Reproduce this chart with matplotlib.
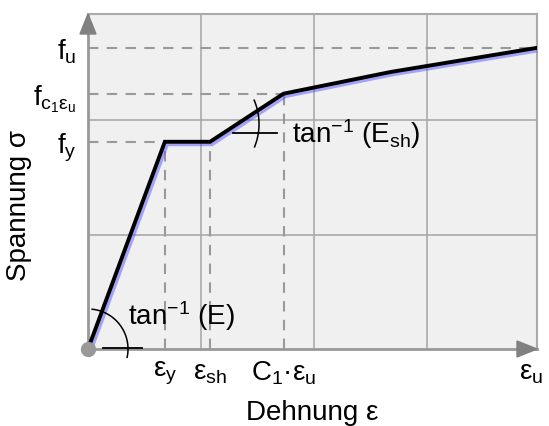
import matplotlib
matplotlib.use("Agg")
import matplotlib.pyplot as plt
import matplotlib.patheffects as pe
from matplotlib.patches import Polygon
import numpy as np

plt.rcParams['font.family'] = ['Liberation Sans', 'DejaVu Sans']
plt.rcParams['mathtext.fontset'] = 'custom'
plt.rcParams['mathtext.rm'] = 'Liberation Sans'
plt.rcParams['mathtext.it'] = 'Liberation Sans'
plt.rcParams['mathtext.bf'] = 'Liberation Sans:bold'

# schematic stress-strain curve (grid units)
strain = [0, 0.68, 1.08, 1.73, 2.68, 3.97]
stress = [0, 1.81, 1.81, 2.23, 2.42, 2.63]

x_ticks = [0.68, 1.08, 1.73, 3.92]
x_labels = [r'ε$_\mathrm{y}$', r'ε$_\mathrm{sh}$', r'C$_1$·ε$_\mathrm{u}$', r'ε$_\mathrm{u}$']
y_ticks = [1.81, 2.23, 2.63]
y_labels = [r'f$_\mathrm{y}$', r'f$_{\mathrm{c}_1\mathrm{ε}_\mathrm{u}}$', r'f$_\mathrm{u}$']

xmax, ymax = 3.973, 2.926
sx, sy = 113.0, 114.5   # px per unit

fig = plt.figure(figsize=(5.49, 4.27), dpi=100)
ax = fig.add_axes([88/549, 77/427, 449/549, 335/427])
ax.set_xlim(0, xmax)
ax.set_ylim(0, ymax)
ax.set_facecolor('#f0f0f0')

gc = '#aaaaaa'
for g in [1, 2, 3]:
    ax.axvline(g, color=gc, lw=1.2, zorder=1)
for g in [1, 2]:
    ax.axhline(g, color=gc, lw=1.2, zorder=1)

for s in ['top', 'right']:
    ax.spines[s].set_color(gc)
    ax.spines[s].set_linewidth(1.5)
for s in ['left', 'bottom']:
    ax.spines[s].set_color('#999999')
    ax.spines[s].set_linewidth(2)

# dashed guide lines
dk = dict(color='#999999', lw=1.5, ls=(0, (5, 4)), zorder=2)
ax.plot([0, strain[1]], [stress[1]] * 2, **dk)
ax.plot([strain[1]] * 2, [0, stress[1]], **dk)
ax.plot([strain[2]] * 2, [0, stress[2]], **dk)
ax.plot([0, strain[3]], [stress[3]] * 2, **dk)
ax.plot([strain[3]] * 2, [0, stress[3]], **dk)
ax.plot([0, strain[5]], [stress[5]] * 2, **dk)

# curve with blue shadow
ax.plot(strain, stress, color='black', lw=2.8, zorder=5, solid_joinstyle='miter',
        path_effects=[pe.SimpleLineShadow(offset=(1.2, -1.2), shadow_color='#5555ff', alpha=0.5, linewidth=4),
                      pe.Normal()])

# angle markers
def arc(cx, cy, r, a0, a1):
    t = np.radians(np.linspace(a0, a1, 60))
    ax.plot(cx + r * np.cos(t) / sx, cy + r * np.sin(t) / sy, color='black', lw=1.1, zorder=6, clip_on=False)

arc(0, 0, 40, -12, 84)
ax.plot([15 / sx, 54 / sx], [0.005, 0.005], color='black', lw=1.3, zorder=6, clip_on=False)
arc(110 / sx, 225 / sy, 61, -22, 23)
ax.plot([145 / sx, 189 / sx], [216 / sy, 216 / sy], color='black', lw=1.3, zorder=6)

fs = 20
ax.text(40 / sx, 25 / sy, r'tan$^{\mathregular{-1}}$ (E)', fontsize=fs, va='baseline', ha='left', zorder=7)
ax.text(204 / sx, 207 / sy, r'tan$^{\mathregular{-1}}$ (E$_\mathrm{sh}$)', fontsize=fs, va='baseline', ha='left', zorder=7)

# arrows and origin dot
tri_kw = dict(closed=True, color='#808080', clip_on=False, zorder=8)
ax.add_patch(Polygon([(-8 / sx, ymax - 20 / sy), (8 / sx, ymax - 20 / sy), (0, ymax)], **tri_kw))
ax.add_patch(Polygon([(xmax - 20 / sx, -8 / sy), (xmax - 20 / sx, 8 / sy), (xmax, 0)], **tri_kw))
ax.scatter([0], [0], s=100, color='#999999', zorder=9, clip_on=False)

ax.set_xticks(x_ticks, x_labels, fontsize=fs)
ax.set_yticks(y_ticks, y_labels, fontsize=fs)
ax.tick_params(axis='x', length=0, pad=7)
ax.tick_params(axis='y', length=0, pad=8)

ax.set_xlabel('Dehnung ε', fontsize=20, labelpad=9)
ax.set_ylabel('Spannung σ', fontsize=20)
ax.yaxis.set_label_coords(-0.125, 0.43)

fig.savefig('out.png', dpi=100)
